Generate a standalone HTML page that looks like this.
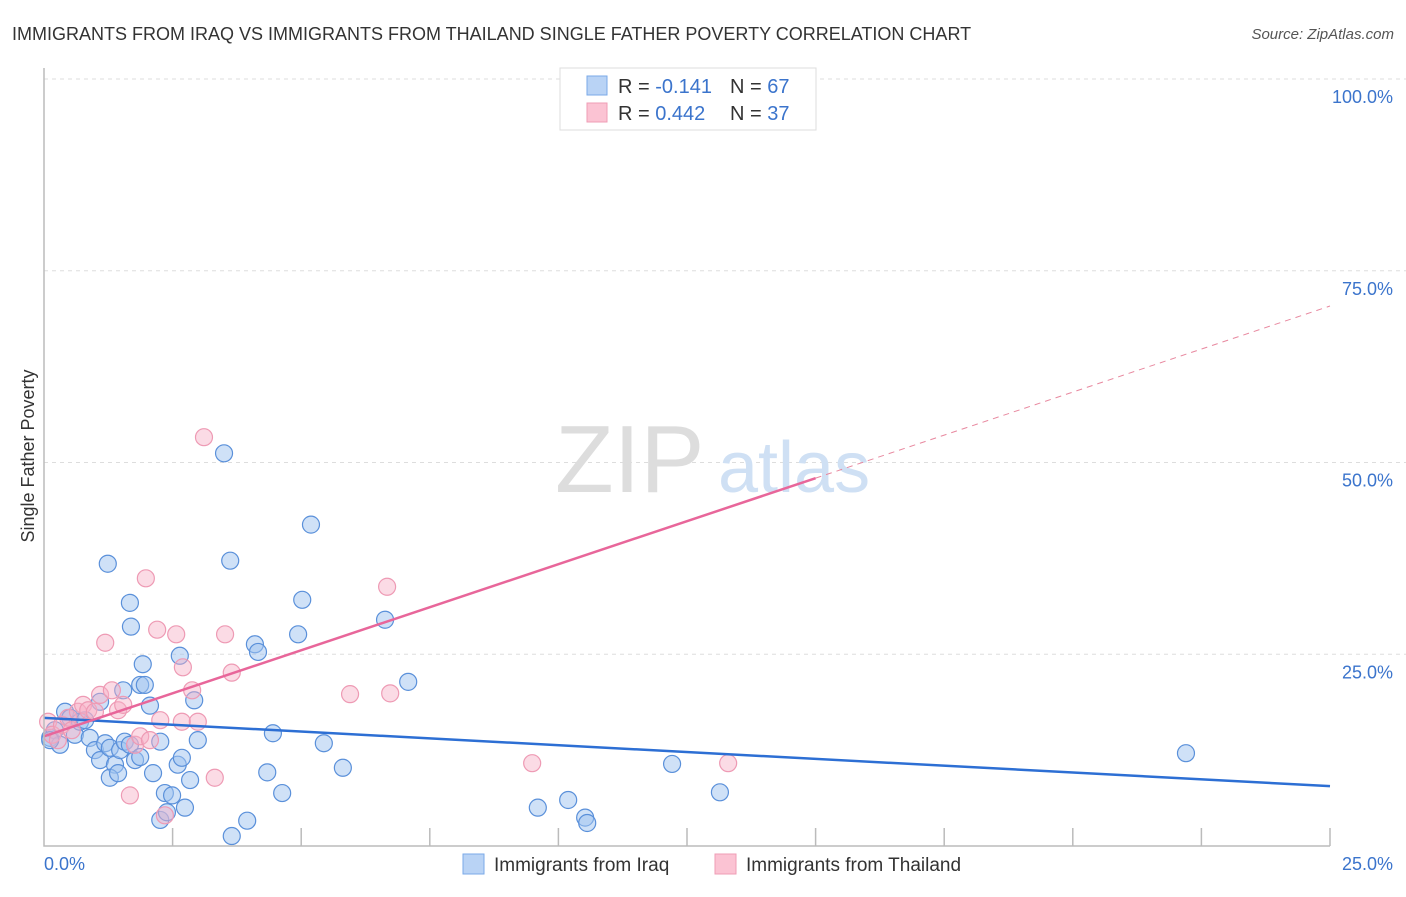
<!DOCTYPE html>
<html><head><meta charset="utf-8"><style>
body{margin:0;background:#fff;font-family:"Liberation Sans",sans-serif}
svg text{font-family:"Liberation Sans",sans-serif}
</style></head><body>
<svg width="1406" height="892" viewBox="0 0 1406 892">
<text x="12" y="40" font-size="18" fill="#333">IMMIGRANTS FROM IRAQ VS IMMIGRANTS FROM THAILAND SINGLE FATHER POVERTY CORRELATION CHART</text>
<text x="1394" y="39" font-size="15" fill="#555" font-style="italic" text-anchor="end">Source: ZipAtlas.com</text>
<text transform="translate(34,456) rotate(-90)" font-size="18" fill="#333" text-anchor="middle">Single Father Poverty</text>
<g id="grid"></g>
<g><text x="555" y="492" font-size="96" fill="#ddd" font-family="Liberation Serif">ZIP</text><text x="718" y="492" font-size="72" fill="#cfe0f4">atlas</text></g>
<g id="pts"></g>
<g id="lines"></g>
<g id="axes"></g>
<g>
<rect x="560" y="68" width="256" height="62" fill="#fff" stroke="#ddd"/>
<rect x="587" y="76" width="20" height="19" fill="#b9d3f5" stroke="#7aaae8"/>
<rect x="587" y="103" width="20" height="19" fill="#fbc3d3" stroke="#ef9db6"/>
<text x="618" y="93" font-size="20" fill="#333">R = <tspan fill="#3b74cc">-0.141</tspan></text>
<text x="730" y="93" font-size="20" fill="#333">N = <tspan fill="#3b74cc">67</tspan></text>
<text x="618" y="120" font-size="20" fill="#333">R = <tspan fill="#3b74cc">0.442</tspan></text>
<text x="730" y="120" font-size="20" fill="#333">N = <tspan fill="#3b74cc">37</tspan></text>
</g>
<g>
<rect x="463" y="854" width="21" height="20" fill="#b9d3f5" stroke="#7aaae8"/>
<text x="494" y="871" font-size="19" fill="#333">Immigrants from Iraq</text>
<rect x="715" y="854" width="21" height="20" fill="#fbc3d3" stroke="#ef9db6"/>
<text x="746" y="871" font-size="19" fill="#333">Immigrants from Thailand</text>
</g>
</svg>
<script>
const iraqX=[0.12,0.21,0.31,0.41,0.51,0.6,0.7,0.8,0.89,0.99,1.09,1.09,1.19,1.28,1.38,1.48,1.57,1.67,1.77,1.87,1.28,1.44,1.54,1.67,1.24,1.69,1.92,1.87,1.96,2.06,2.12,2.26,2.35,2.26,2.39,2.49,2.64,2.6,2.68,2.74,2.84,2.92,2.99,3.5,3.62,3.65,3.95,4.1,4.16,4.34,4.45,4.63,5.02,4.94,5.19,5.44,5.81,6.63,7.08,9.6,10.19,10.52,10.56,12.21,13.14,22.2,0.12];
const iraqY=[14.1,15.1,13.2,17.5,16.7,14.5,16.2,16.4,14.1,12.5,18.8,11.2,13.4,12.8,10.6,12.5,13.6,13.2,11.2,11.6,8.9,9.5,20.3,31.7,36.8,28.6,23.7,21.0,21.0,18.3,9.5,13.6,6.9,3.4,4.4,6.6,24.8,10.6,11.5,5.0,8.6,19.0,13.8,51.2,37.2,1.3,3.3,26.3,25.3,9.6,14.7,6.9,32.1,27.6,41.9,13.4,10.2,29.5,21.4,5.0,6.0,3.7,3.0,10.7,7.0,12.1,13.8];
const thaiX=[0.08,0.16,0.27,0.35,0.47,0.54,0.66,0.76,0.86,0.99,1.09,1.19,1.32,1.44,1.54,1.67,1.77,1.87,1.98,2.06,2.2,2.26,2.35,2.57,2.68,2.7,2.88,2.99,3.11,3.32,3.52,3.65,5.95,6.67,6.73,9.49,13.3,12.95];
const thaiY=[16.2,14.5,13.8,15.8,16.7,15.1,17.5,18.4,17.7,17.5,19.7,26.5,20.3,17.7,18.4,6.6,13.2,14.3,34.9,13.8,28.2,16.4,4.0,27.6,16.2,23.3,20.3,16.2,53.3,8.9,27.6,22.6,19.8,33.8,19.9,10.8,10.8,99.9];
const iraqTrend=[16.7,7.8];
const thaiTrend=[14.3,70.4];
const yTicks=[25,50,75,100];
const xTickLabels=["0.0%","25.0%"];
const NS="http://www.w3.org/2000/svg";
const X=v=>44+v/25*1286, Y=v=>846-v*7.67;
function mk(t,a,p){const e=document.createElementNS(NS,t);for(const k in a)e.setAttribute(k,a[k]);p.appendChild(e);return e;}
const grid=document.getElementById('grid'),axes=document.getElementById('axes'),pts=document.getElementById('pts'),lines=document.getElementById('lines');
yTicks.forEach(t=>{
 const l=mk('line',{x1:44,x2:1420,y1:Y(t),y2:Y(t),stroke:'#ddd','stroke-dasharray':'4,4'},grid);
 
 
 const tx=mk('text',{x:1393,y:Y(t)+24,'font-size':18,fill:'#3b74cc','text-anchor':'end'},axes);
 tx.textContent=t.toFixed(1)+'%';
 
 
});
const ax=mk('path',{d:'M44 68 V846 H1330',fill:'none',stroke:'#bbb','stroke-width':1.5},axes);


for(let i=1;i<=10;i++){const tk=mk('line',{x1:X(i*2.5),x2:X(i*2.5),y1:828,y2:846,stroke:'#bbb','stroke-width':1.5},axes);
 
 }
[[0,44,'start'],[25,1393,'end']].forEach((d,i)=>{const t=mk('text',{x:d[1],y:870,'font-size':18,fill:'#3b74cc','text-anchor':d[2]},axes);t.textContent=xTickLabels[i];
 
 });
iraqX.forEach((x,i)=>{const c=mk('circle',{cx:X(x),cy:Y(iraqY[i]),r:8.5,fill:'rgba(160,196,240,0.5)',stroke:'#5a90da','stroke-width':1.2},pts);
 
 });
thaiX.forEach((x,i)=>{const c=mk('circle',{cx:X(x),cy:Y(thaiY[i]),r:8.5,fill:'rgba(246,176,198,0.45)',stroke:'#ee9ab4','stroke-width':1.2},pts);
 
 });
const bl=mk('line',{x1:X(0),y1:Y(iraqTrend[0]),x2:X(25),y2:Y(iraqTrend[1]),stroke:'#2d6fd4','stroke-width':2.5},lines);


const pm=v=>thaiTrend[0]+(thaiTrend[1]-thaiTrend[0])*v/25;
const pl=mk('line',{x1:X(0),y1:Y(pm(0)),x2:X(15),y2:Y(pm(15)),stroke:'#e8669a','stroke-width':2.5},lines);


const pd=mk('line',{x1:X(15),y1:Y(pm(15)),x2:X(25),y2:Y(pm(25)),stroke:'#e8889f','stroke-width':1,'stroke-dasharray':'6,5'},lines);


</script>
</body></html>
